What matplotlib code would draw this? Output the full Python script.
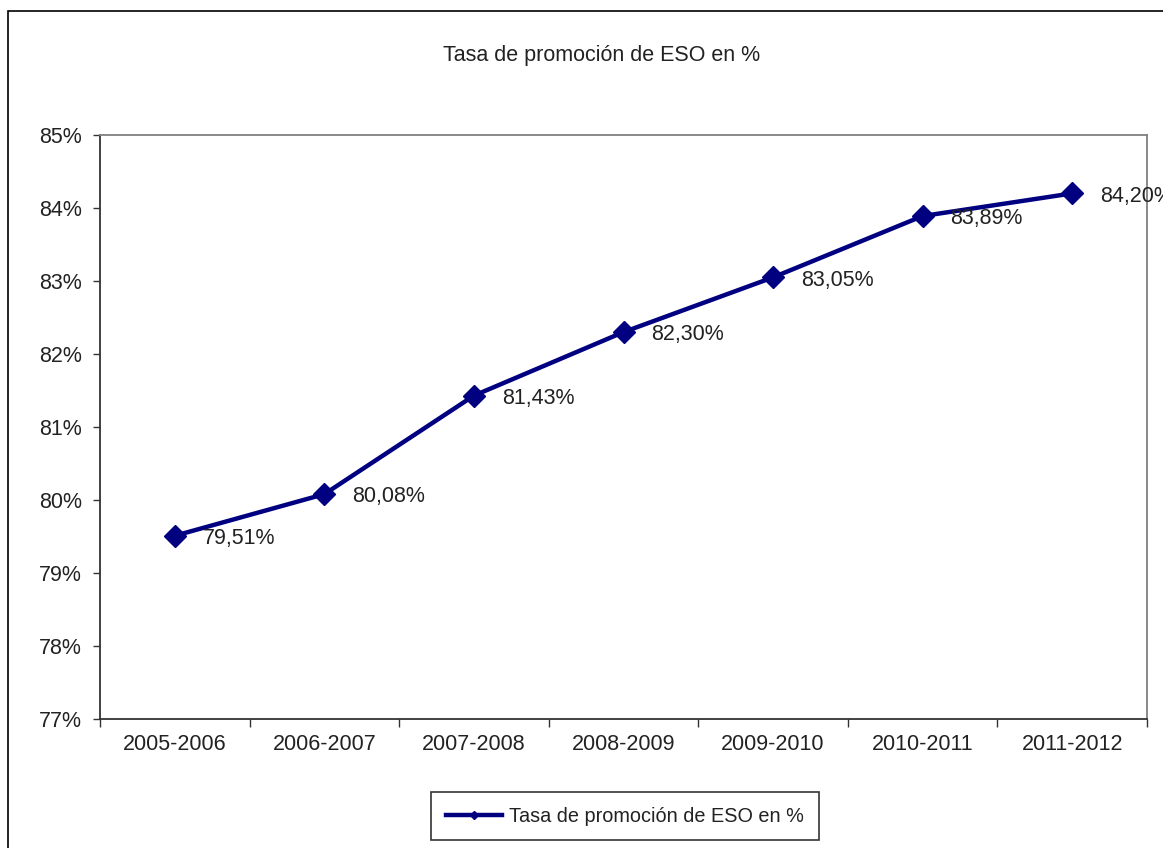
import matplotlib
matplotlib.use("Agg")
import matplotlib.pyplot as plt
from matplotlib.patches import Rectangle

plt.rcParams['font.family'] = ['Liberation Sans', 'DejaVu Sans']

periods = ["2005-2006", "2006-2007", "2007-2008", "2008-2009",
           "2009-2010", "2010-2011", "2011-2012"]
rates = [79.51, 80.08, 81.43, 82.30, 83.05, 83.89, 84.20]
y_ticks = [77, 78, 79, 80, 81, 82, 83, 84, 85]
title = "Tasa de promoción de ESO en %"

W, H = 1163, 848
fig = plt.figure(figsize=(W / 100, H / 100), dpi=100)
fig.patch.set_facecolor("white")

# outer chart frame (runs off the right and bottom edges)
fig.patches.append(Rectangle((8 / W, -0.05), 1.1, 1 - 11 / H + 0.05,
                             transform=fig.transFigure, fill=False,
                             edgecolor="black", linewidth=1.2))

ax = fig.add_axes([100 / W, 1 - 719 / H, 1047 / W, 584 / H])
x = list(range(len(periods)))
line, = ax.plot(x, rates, color="#000080", linewidth=3.2, marker="D",
                markersize=11, label=title, clip_on=False, zorder=3)

for xi, v in zip(x, rates):
    ax.annotate(f"{v:.2f}%".replace(".", ","), (xi, v), xytext=(20, -2),
                textcoords="offset points", va="center", ha="left",
                fontsize=15.5, color="#222222", annotation_clip=False)

ax.set_xlim(-0.5, len(periods) - 0.5)
ax.set_ylim(77, 85)
ax.set_yticks(y_ticks)
ax.set_yticklabels([f"{t}%" for t in y_ticks])
ax.set_xticks([i - 0.5 for i in range(len(periods) + 1)])
ax.set_xticklabels([])
ax.set_xticks(x, minor=True)
ax.set_xticklabels(periods, minor=True)
ax.tick_params(axis="x", which="minor", length=0, pad=11, labelsize=15.5,
               colors="#222222")
ax.tick_params(axis="x", which="major", length=6, width=1, direction="out",
               color="#333333")
ax.tick_params(axis="y", length=5, width=1, pad=8, labelsize=15.5,
               colors="#222222")
ax.tick_params(axis="y", color="#333333")

for side in ("left", "bottom"):
    ax.spines[side].set_color("#333333")
    ax.spines[side].set_linewidth(1.3)
for side in ("top", "right"):
    ax.spines[side].set_color("#808080")
    ax.spines[side].set_linewidth(1.3)

fig.text(602 / W, 1 - 55 / H, title, ha="center", va="center",
         fontsize=15.5, color="#222222")

leg = fig.legend(handles=[line], loc="center",
                 bbox_to_anchor=(625 / W, 1 - 816 / H),
                 frameon=True, fancybox=False, edgecolor="black",
                 fontsize=14.3, handlelength=2.8, handletextpad=0.35,
                 borderpad=0.75, markerscale=0.35)
leg.get_frame().set_linewidth(1.2)
for t in leg.get_texts():
    t.set_color("#222222")

fig.savefig("out.png", dpi=100, facecolor="white")
